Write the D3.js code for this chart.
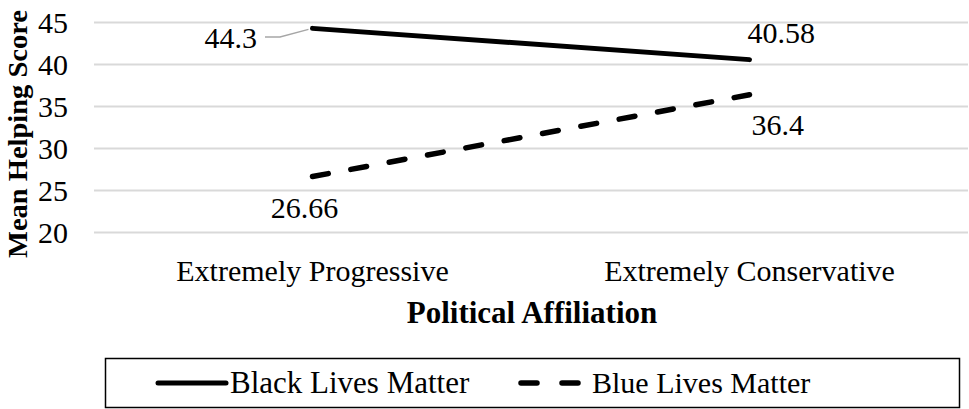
<!DOCTYPE html>
<html><head><meta charset="utf-8">
<script src="https://cdn.jsdelivr.net/npm/d3@7"></script>
<style>body{margin:0;background:#fff}svg{display:block}text{font-family:"Liberation Serif","Times New Roman",serif}</style>
</head><body>
<script>
const categories = ["Extremely Progressive", "Extremely Conservative"];
const blackLivesMatter = [44.3, 40.58];
const blueLivesMatter = [26.66, 36.4];
const yTicks = [20, 25, 30, 35, 40, 45];
const seriesNames = ["Black Lives Matter", "Blue Lives Matter"];

const W = 969, H = 409;
const svg = d3.select("body").append("svg").attr("width", W).attr("height", H);
const x = d3.scaleBand().domain(categories).range([94, 968]);
const y = d3.scaleLinear().domain([20, 45]).range([232.5, 22.5]);
const cx = c => x(c) + x.bandwidth() / 2;
const FS = 30;

// gridlines
svg.append("g").selectAll("line").data(yTicks).join("line")
  .attr("x1", 94).attr("x2", 968).attr("y1", d => y(d)).attr("y2", d => y(d))
  .attr("stroke", "#d9d9d9").attr("stroke-width", 2);

// y axis labels
svg.append("g").selectAll("text").data(yTicks).join("text")
  .attr("x", 68).attr("y", d => y(d)).attr("dy", "0.34em").attr("text-anchor", "end")
  .attr("font-size", FS).text(d => d);

// x category labels
svg.append("g").selectAll("text").data(categories).join("text")
  .attr("x", d => cx(d)).attr("y", 281).attr("text-anchor", "middle")
  .attr("font-size", FS).text(d => d);

// axis titles
svg.append("text").attr("x", 532).attr("y", 323).attr("text-anchor", "middle")
  .attr("font-size", 31).attr("font-weight", "bold").text("Political Affiliation");
svg.append("text").attr("transform", "translate(27,134) rotate(-90)").attr("text-anchor", "middle")
  .attr("font-size", 27).attr("font-weight", "bold")
  .attr("textLength", 248).attr("lengthAdjust", "spacingAndGlyphs").text("Mean Helping Score");

const line = d3.line().x((d, i) => cx(categories[i])).y(d => y(d));
svg.append("path").datum(blackLivesMatter).attr("d", line)
  .attr("fill", "none").attr("stroke", "#000").attr("stroke-width", 5).attr("stroke-linecap", "round");
svg.append("path").datum(blueLivesMatter).attr("d", line)
  .attr("fill", "none").attr("stroke", "#000").attr("stroke-width", 5.5)
  .attr("stroke-linecap", "round").attr("stroke-dasharray", "16,23");

// data labels
const fmt = v => String(v);
svg.append("path")
  .attr("d", `M265,37 L280,37 L${cx(categories[0]) - 4},${y(blackLivesMatter[0]) + 1}`)
  .attr("fill", "none").attr("stroke", "#a6a6a6").attr("stroke-width", 1.5);
svg.append("text").attr("x", 257).attr("y", 48).attr("text-anchor", "end").attr("font-size", FS)
  .text(fmt(blackLivesMatter[0]));
svg.append("text").attr("x", cx(categories[1]) - 2).attr("y", 43).attr("font-size", FS)
  .text(fmt(blackLivesMatter[1]));
svg.append("text").attr("x", cx(categories[0]) - 8).attr("y", 218).attr("text-anchor", "middle").attr("font-size", FS)
  .text(fmt(blueLivesMatter[0]));
svg.append("text").attr("x", cx(categories[1]) + 2).attr("y", 135).attr("font-size", FS)
  .text(fmt(blueLivesMatter[1]));

// legend
svg.append("rect").attr("x", 105.5).attr("y", 358.5).attr("width", 854).attr("height", 49)
  .attr("fill", "none").attr("stroke", "#000").attr("stroke-width", 1.5);
const ly = 383;
svg.append("line").attr("x1", 158).attr("x2", 226).attr("y1", ly).attr("y2", ly)
  .attr("stroke", "#000").attr("stroke-width", 5).attr("stroke-linecap", "round");
svg.append("text").attr("x", 230).attr("y", ly + 10).attr("font-size", 31).text(seriesNames[0]);
svg.append("line").attr("x1", 521).attr("x2", 584).attr("y1", ly).attr("y2", ly)
  .attr("stroke", "#000").attr("stroke-width", 5.5).attr("stroke-linecap", "round").attr("stroke-dasharray", "16,25");
svg.append("text").attr("x", 592).attr("y", ly + 10).attr("font-size", 30).text(seriesNames[1]);
</script>
</body></html>
